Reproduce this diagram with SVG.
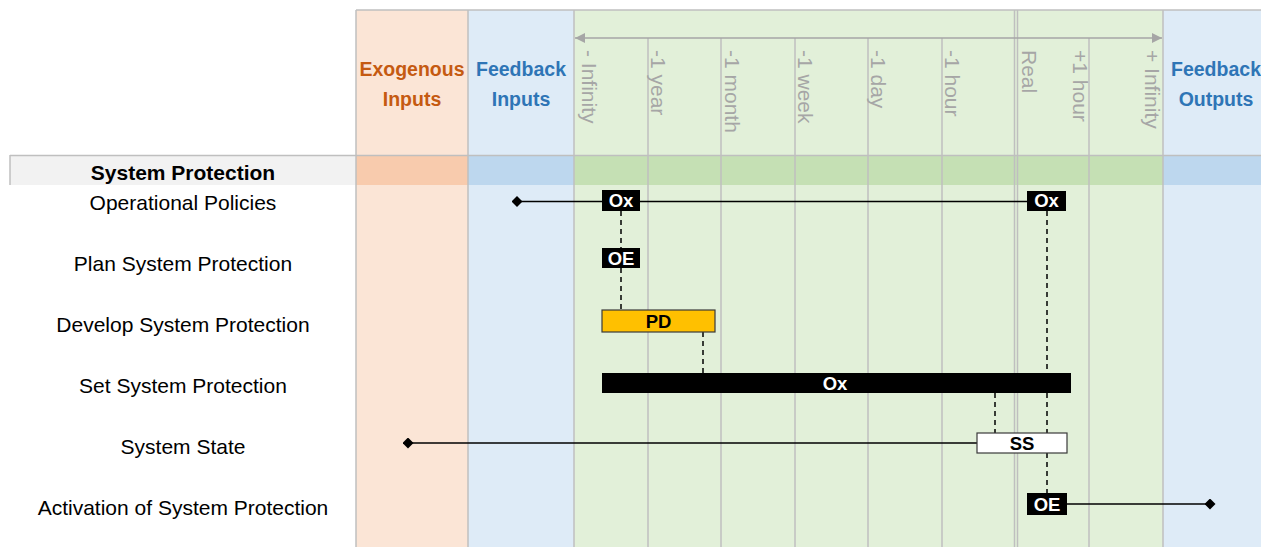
<svg xmlns="http://www.w3.org/2000/svg" width="1261" height="547" viewBox="0 0 1261 547">
<style>
.grid{stroke:#bfbfbf;stroke-width:1.5;fill:none}
.tl{font-family:"Liberation Sans",Arial,sans-serif;font-size:21px;fill:#a6a6a6}
.hd{font-family:"Liberation Sans",Arial,sans-serif;font-size:19.5px;font-weight:bold;text-anchor:middle}
.rl{font-family:"Liberation Sans",Arial,sans-serif;font-size:21px;fill:#000;text-anchor:middle}
.bx{font-family:"Liberation Sans",Arial,sans-serif;font-size:18.5px;font-weight:bold;text-anchor:middle}
.blk{fill:#000}
.dash{stroke:#000;stroke-width:1.5;stroke-dasharray:5,4;fill:none}
.ln{stroke:#000;stroke-width:1.5;fill:none}
</style>
<defs>
<marker id="arr" viewBox="0 0 10 10" refX="10" refY="5" markerWidth="10" markerHeight="11" markerUnits="userSpaceOnUse" orient="auto-start-reverse">
<path d="M0,0 L10,5 L0,10 z" fill="#a6a6a6"/>
</marker>
<marker id="dia" viewBox="0 0 10 10" refX="5" refY="5" markerWidth="11" markerHeight="11" markerUnits="userSpaceOnUse">
<path d="M5,0 L10,5 L5,10 L0,5 z" fill="#000"/>
</marker>
</defs>

<g id="background">
<rect x="356" y="10" width="112" height="537" fill="#fbe5d6"/>
<rect x="468" y="10" width="106" height="537" fill="#deebf7"/>
<rect x="574" y="10" width="589" height="537" fill="#e2f0d9"/>
<rect x="1163" y="10" width="98" height="537" fill="#deebf7"/>
<rect x="10" y="156" width="346" height="29" fill="#f2f2f2"/>
<rect x="356" y="156" width="112" height="29" fill="#f8cbad"/>
<rect x="468" y="156" width="106" height="29" fill="#bdd7ee"/>
<rect x="574" y="156" width="589" height="29" fill="#c5e0b4"/>
<rect x="1163" y="156" width="98" height="29" fill="#bdd7ee"/>
</g>

<g id="grid">
<line class="grid" x1="356" y1="10" x2="1261" y2="10"/>
<line class="grid" x1="10" y1="155.5" x2="1261" y2="155.5"/>
<line class="grid" x1="10" y1="155" x2="10" y2="185"/>
<line class="grid" x1="356" y1="10" x2="356" y2="547"/>
<line class="grid" x1="468" y1="10" x2="468" y2="547"/>
<line class="grid" x1="574" y1="10" x2="574" y2="547"/>
<line class="grid" x1="648" y1="38" x2="648" y2="547"/>
<line class="grid" x1="721" y1="38" x2="721" y2="547"/>
<line class="grid" x1="795" y1="38" x2="795" y2="547"/>
<line class="grid" x1="868" y1="38" x2="868" y2="547"/>
<line class="grid" x1="942" y1="38" x2="942" y2="547"/>
<line class="grid" x1="1014.5" y1="10" x2="1014.5" y2="547"/>
<line class="grid" x1="1017.5" y1="10" x2="1017.5" y2="547"/>
<line class="grid" x1="1089" y1="38" x2="1089" y2="547"/>
<line class="grid" x1="1163" y1="10" x2="1163" y2="547"/>
<line x1="575" y1="38" x2="1162" y2="38" stroke="#a6a6a6" stroke-width="1.5" marker-start="url(#arr)" marker-end="url(#arr)"/>
</g>

<g id="headers">
<text class="hd" fill="#c55a11" x="412" y="76">Exogenous</text>
<text class="hd" fill="#c55a11" x="412" y="106">Inputs</text>
<text class="hd" fill="#2e75b6" x="521" y="76">Feedback</text>
<text class="hd" fill="#2e75b6" x="521" y="106">Inputs</text>
<text class="hd" fill="#2e75b6" x="1216" y="76">Feedback</text>
<text class="hd" fill="#2e75b6" x="1216" y="106">Outputs</text>
</g>

<g id="timescale">
<text class="tl" transform="translate(582,50) rotate(90)">- Infinity</text>
<text class="tl" transform="translate(651,50) rotate(90)">-1 year</text>
<text class="tl" transform="translate(725,50) rotate(90)">-1 month</text>
<text class="tl" transform="translate(798,50) rotate(90)">-1 week</text>
<text class="tl" transform="translate(871,50) rotate(90)">-1 day</text>
<text class="tl" transform="translate(945,50) rotate(90)">-1 hour</text>
<text class="tl" transform="translate(1022,50) rotate(90)">Real</text>
<text class="tl" transform="translate(1073,50) rotate(90)">+1 hour</text>
<text class="tl" transform="translate(1145,50) rotate(90)">+ Infinity</text>
</g>

<g id="row-labels">
<text class="rl" x="183" y="180" font-weight="bold" font-size="20.5">System Protection</text>
<text class="rl" x="183" y="210">Operational Policies</text>
<text class="rl" x="183" y="271">Plan System Protection</text>
<text class="rl" x="183" y="332">Develop System Protection</text>
<text class="rl" x="183" y="393">Set System Protection</text>
<text class="rl" x="183" y="454">System State</text>
<text class="rl" x="183" y="515">Activation of System Protection</text>
</g>

<g id="connectors">
<line class="ln" x1="517" y1="201.5" x2="1028" y2="201.5" marker-start="url(#dia)"/>
<line class="ln" x1="408" y1="443" x2="977" y2="443" marker-start="url(#dia)"/>
<line class="ln" x1="1067" y1="504" x2="1210" y2="504" marker-end="url(#dia)"/>
<line class="dash" x1="621" y1="211" x2="621" y2="248"/>
<line class="dash" x1="621" y1="268" x2="621" y2="310"/>
<line class="dash" x1="703" y1="332" x2="703" y2="373"/>
<line class="dash" x1="1047" y1="211" x2="1047" y2="373"/>
<line class="dash" x1="1047" y1="393" x2="1047" y2="433"/>
<line class="dash" x1="995" y1="393" x2="995" y2="433"/>
<line class="dash" x1="1047" y1="453" x2="1047" y2="493"/>
</g>

<g id="node-ox1">
<rect class="blk" x="602" y="190" width="38" height="21"/>
<text class="bx" fill="#fff" x="621" y="207">Ox</text>
</g>
<g id="node-ox2">
<rect class="blk" x="1027" y="191" width="39" height="20"/>
<text class="bx" fill="#fff" x="1046.5" y="207">Ox</text>
</g>
<g id="node-oe1">
<rect class="blk" x="602" y="248" width="38" height="20"/>
<text class="bx" fill="#fff" x="621" y="264.5">OE</text>
</g>
<g id="node-pd">
<rect x="602" y="310" width="113" height="22" fill="#ffc000" stroke="#3a3a3a" stroke-width="1.2"/>
<text class="bx" fill="#000" x="658.5" y="327.5">PD</text>
</g>
<g id="node-ox-bar">
<rect class="blk" x="602" y="373" width="469" height="20"/>
<text class="bx" fill="#fff" x="835" y="389.5">Ox</text>
</g>
<g id="node-ss">
<rect x="977" y="433" width="90" height="20" fill="#fff" stroke="#3a3a3a" stroke-width="1.2"/>
<text class="bx" fill="#000" x="1022" y="449.5">SS</text>
</g>
<g id="node-oe2">
<rect class="blk" x="1027" y="493" width="40" height="22"/>
<text class="bx" fill="#fff" x="1047" y="510.5">OE</text>
</g>
</svg>
